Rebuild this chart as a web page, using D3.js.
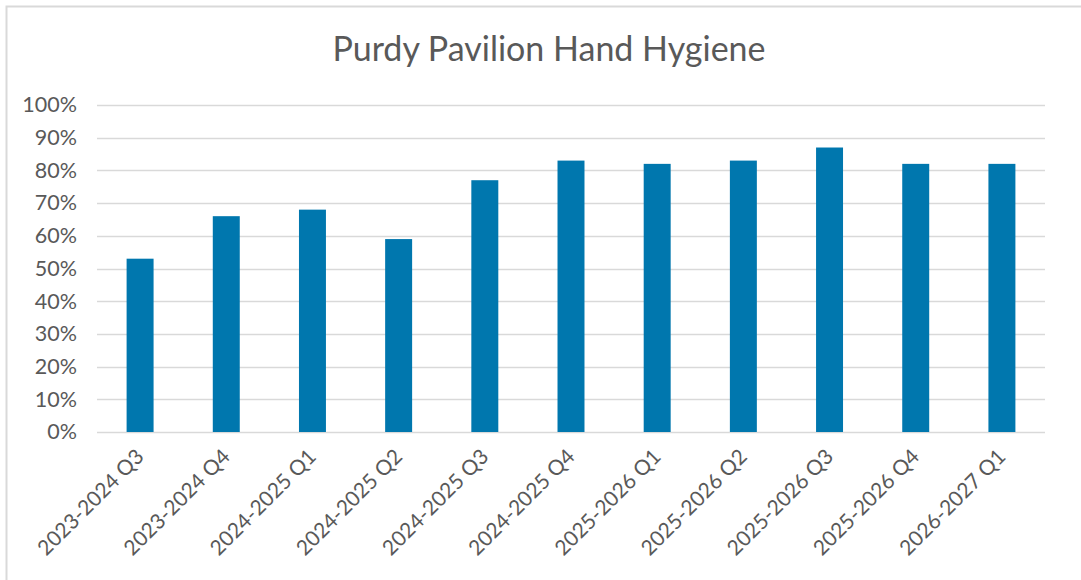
<!DOCTYPE html>
<html>
<head>
<meta charset="utf-8">
<script src="https://cdn.jsdelivr.net/npm/d3@7"></script>
<style>
  body { margin: 0; background: #fff; }
  text { font-family: Lato, "Open Sans", sans-serif; fill: #595959; }
</style>
</head>
<body>
<div id="chart"></div>
<script>
(function () {

  // data
  var quarters = ["2023-2024 Q3", "2023-2024 Q4", "2024-2025 Q1", "2024-2025 Q2", "2024-2025 Q3",
                  "2024-2025 Q4", "2025-2026 Q1", "2025-2026 Q2", "2025-2026 Q3", "2025-2026 Q4",
                  "2026-2027 Q1"];
  var compliance = [0.53, 0.66, 0.68, 0.59, 0.77, 0.83, 0.82, 0.83, 0.87, 0.82, 0.82];
  var yTicks = [0, 0.1, 0.2, 0.3, 0.4, 0.5, 0.6, 0.7, 0.8, 0.9, 1.0];
  var title = "Purdy Pavilion Hand Hygiene";

  var width = 1081,
      height = 580;
  var margin = { left: 97, right: 36, top: 105, bottom: 148 };

  var svg = d3.select("#chart").append("svg")
    .attr("width", width)
    .attr("height", height);

  // chart area border (runs off the right / bottom edge like the screenshot)
  svg.append("rect")
    .attr("x", 6.5).attr("y", 6.5)
    .attr("width", width + 20).attr("height", height + 20)
    .attr("fill", "none")
    .attr("stroke", "#d9d9d9")
    .attr("stroke-width", 2);

  var x = d3.scaleBand()
    .domain(quarters)
    .range([margin.left, width - margin.right])
    .paddingInner(0.687)
    .paddingOuter(0.3435);

  var y = d3.scaleLinear()
    .domain([0, 1])
    .range([height - margin.bottom, margin.top]);

  // gridlines
  svg.append("g")
    .selectAll("line")
    .data(yTicks)
    .enter().append("line")
    .attr("x1", margin.left)
    .attr("x2", width - margin.right)
    .attr("y1", function (d) { return Math.round(y(d)) + 0.5 })
    .attr("y2", function (d) { return Math.round(y(d)) + 0.5 })
    .attr("stroke", "#d9d9d9")
    .attr("stroke-width", 1.5);

  // y axis labels
  var yAxis = d3.axisLeft(y)
    .tickValues(yTicks)
    .tickFormat(d3.format(".0%"))
    .tickSize(0)
    .tickPadding(20);

  var gy = svg.append("g")
    .attr("transform", "translate(" + margin.left + ",0)")
    .call(yAxis);
  gy.select(".domain").remove();
  gy.selectAll("text")
    .style("font-size", "21.5px")
    .attr("fill", "#595959");

  // bars
  svg.append("g")
    .selectAll("rect")
    .data(compliance)
    .enter().append("rect")
    .attr("x", function (d, i) { return x(quarters[i]) })
    .attr("width", x.bandwidth())
    .attr("y", function (d) { return y(d) })
    .attr("height", function (d) { return y(0) - y(d) })
    .attr("fill", "#0077ae");

  // x axis labels, rotated
  var xAxis = d3.axisBottom(x).tickSize(0).tickPadding(0);
  var gx = svg.append("g")
    .attr("transform", "translate(0," + y(0) + ")")
    .call(xAxis);
  gx.select(".domain").remove();
  gx.selectAll("text")
    .style("font-size", "21px")
    .attr("fill", "#595959")
    .attr("text-anchor", "end")
    .attr("dy", 0)
    .attr("transform", "translate(5,26) rotate(-45)");

  // title
  svg.append("text")
    .attr("x", 549)
    .attr("y", 61)
    .attr("text-anchor", "middle")
    .style("font-size", "34px")
    .text(title);

})()
</script>
</body>
</html>
